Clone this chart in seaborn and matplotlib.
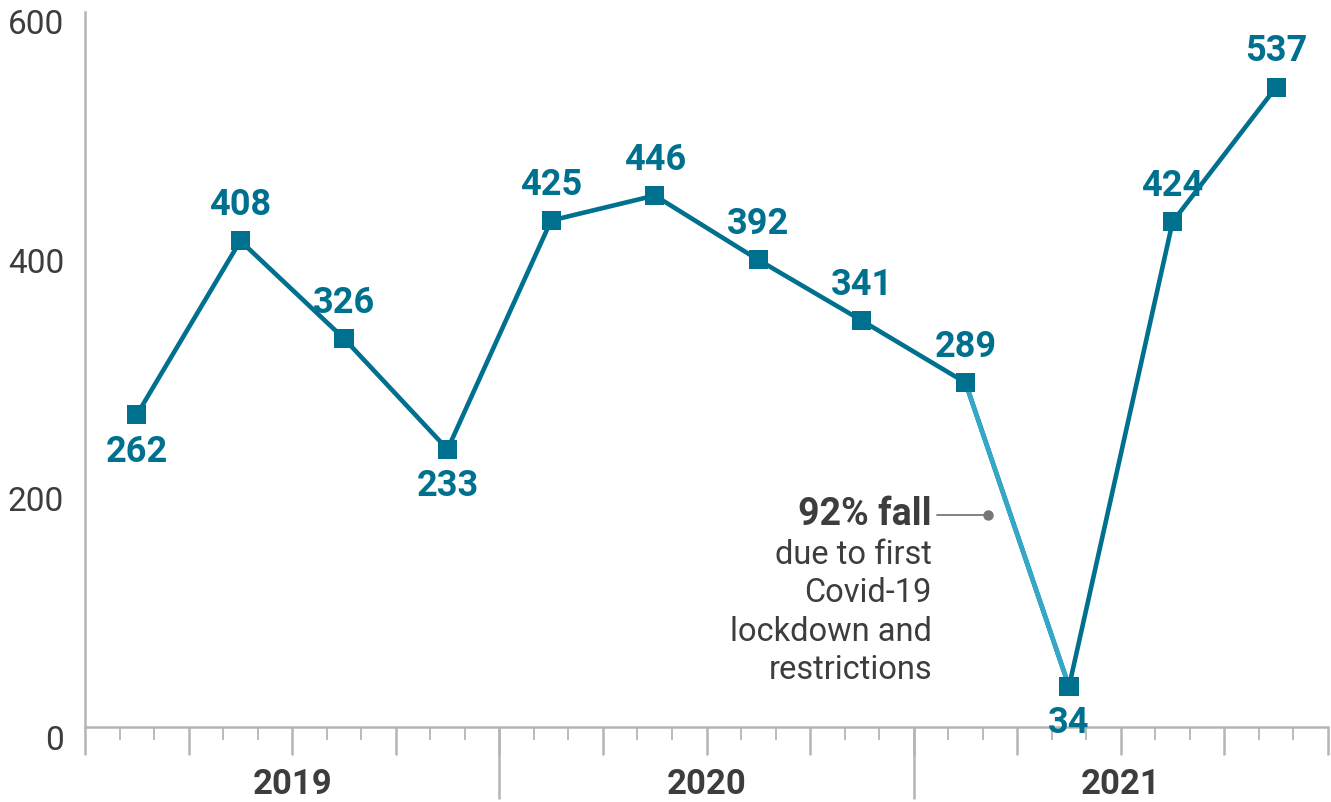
import matplotlib as mpl
import matplotlib.pyplot as plt
import matplotlib.transforms as mtransforms
import pandas as pd
import seaborn as sns

mpl.use("agg")

# quarterly counts, Q1 2019 .. Q4 2021
quarters = ["2019Q1", "2019Q2", "2019Q3", "2019Q4",
            "2020Q1", "2020Q2", "2020Q3", "2020Q4",
            "2021Q1", "2021Q2", "2021Q3", "2021Q4"]
values = [262, 408, 326, 233, 425, 446, 392, 341, 289, 34, 424, 537]
label_below = [True, False, False, True, False, False, False, False, False, True, False, False]
years = ["2019", "2020", "2021"]
y_ticks = [0, 200, 400, 600]
note_head = "92% fall"
note_lines = ["due to first", "Covid-19", "lockdown and", "restrictions"]

DARK = "#00708f"
LIGHT = "#33a8c9"
GREY = "#b5b5b5"
TEXT = "#3d3d3d"

df = pd.DataFrame({"quarter": quarters, "value": values})
# x in months since Jan 2019, mid-quarter
df["month"] = [3 * i + 1.5 for i in range(len(df))]

sns.set_style("white")
plt.rcParams["font.family"] = ["Roboto", "DejaVu Sans"]

fig = plt.figure(figsize=(13.31, 8.02), dpi=100)
ax = fig.add_axes([85 / 1331, 1 - 727 / 802, (1328 - 85) / 1331, (727 - 12) / 802])

sns.lineplot(data=df, x="month", y="value", ax=ax, color=DARK, linewidth=3.3, zorder=3)
drop = df.iloc[8:10]
sns.lineplot(data=drop, x="month", y="value", ax=ax, color=LIGHT, linewidth=3.3, zorder=4)
sns.scatterplot(data=df, x="month", y="value", ax=ax, marker="s", s=190,
                color=DARK, edgecolor="none", zorder=5)

for (_, row), below in zip(df.iterrows(), label_below):
    off = -37 if below else 36
    ax.annotate(str(row["value"]), (row["month"], row["value"]),
                xytext=(0, off * 0.72), textcoords="offset points",
                ha="center", va="center", fontsize=26, fontweight="bold",
                color=DARK, zorder=6)

ax.set_xlim(0, 36)
ax.set_ylim(0, 600)
ax.set_xlabel("")
ax.set_ylabel("")

# spines
for s in ("top", "right"):
    ax.spines[s].set_visible(False)
for s in ("left", "bottom"):
    ax.spines[s].set_color(GREY)
    ax.spines[s].set_linewidth(1.8)

# y ticks
ax.set_yticks(y_ticks)
ax.set_yticklabels([str(v) for v in y_ticks])
ax.tick_params(axis="y", left=False, length=0, pad=15, labelsize=24, labelcolor=TEXT)
shift = mtransforms.ScaledTranslation(0, -10 / 100, fig.dpi_scale_trans)
for lab in ax.get_yticklabels():
    lab.set_transform(lab.get_transform() + shift)

# x ticks: quarters major, months minor, years via secondary axis
ax.set_xticks(range(0, 37, 3))
ax.set_xticks(range(0, 37), minor=True)
ax.set_xticklabels([])
ax.tick_params(axis="x", which="both", bottom=True, direction="out", color=GREY)
ax.tick_params(axis="x", which="major", length=20, width=1.8)
ax.tick_params(axis="x", which="minor", length=9, width=1.3)

sec = ax.secondary_xaxis("bottom")
sec.set_xticks([12, 24])
sec.set_xticklabels([])
sec.tick_params(axis="x", bottom=True, direction="out", length=52, width=1.8, color=GREY)
sec.spines["bottom"].set_visible(False)

trans = mtransforms.blended_transform_factory(ax.transData, ax.transAxes)
for i, yr in enumerate(years):
    ax.text(12 * i + 6, -0.081, yr, transform=trans, ha="center", va="center",
            fontsize=25, fontweight="bold", color=TEXT)

# annotation for the drop
anchor = (24.53, 178)
ax.annotate(note_head, anchor, ha="right", va="center", fontsize=27,
            fontweight="bold", color=TEXT)
for k, line in enumerate(note_lines):
    ax.annotate(line, anchor, xytext=(0, -(40 + 38.5 * k) * 0.72),
                textcoords="offset points", ha="right", va="center",
                fontsize=23.5, color=TEXT)
ax.plot([24.67, 26.15], [178, 178], color="#777777", linewidth=1.3, zorder=2)
ax.plot([26.15], [178], marker="o", markersize=6.5, color="#777777", zorder=2)

fig.savefig("out.png", dpi=100)
